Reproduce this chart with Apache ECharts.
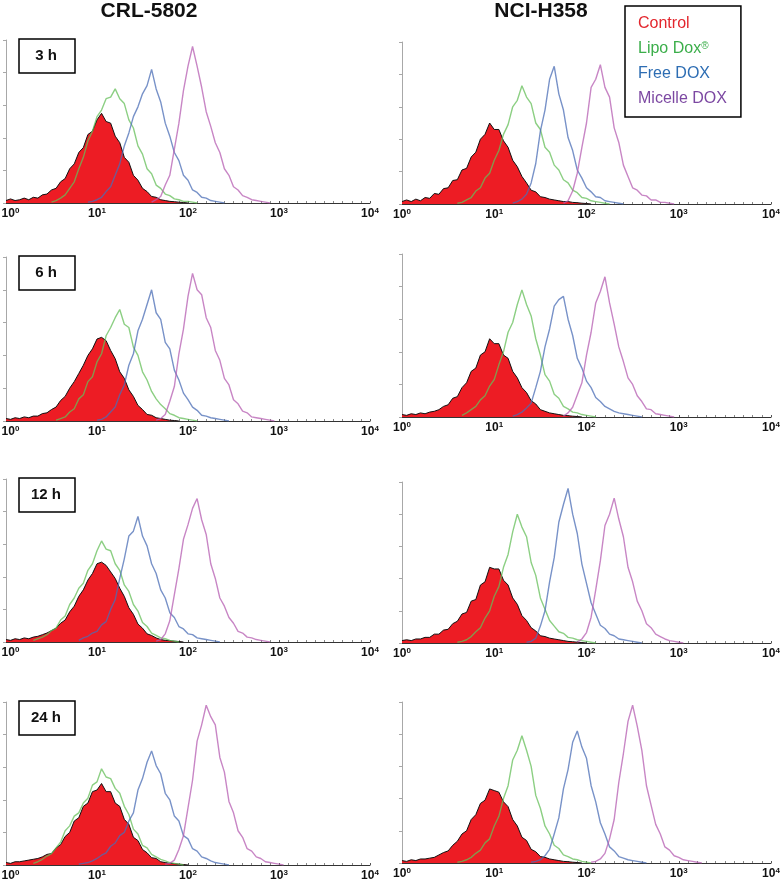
<!DOCTYPE html>
<html><head><meta charset="utf-8">
<script src="https://cdn.jsdelivr.net/npm/echarts@6/dist/echarts.min.js"></script>
<style>html,body{margin:0;padding:0;background:#fff}#c{width:784px;height:881px}</style>
</head><body><div id="c"></div>
<script>
// ---------- categories ----------
const cellLines = ['CRL-5802', 'NCI-H358'];
const timePoints = ['3 h', '6 h', '12 h', '24 h'];
const treatments = ['Control', 'Lipo Dox®', 'Free DOX', 'Micelle DOX'];
const xTickExponents = [0, 1, 2, 3, 4];   // 10^0 ... 10^4
const channelStep = 0.05;                 // histogram channel width (log10 units)

// ---------- histograms (counts in % of panel height), first channel given by *Start ----------
// CRL-5802, 3 h
const crl3hStart = [0, 0.5, 0.9, 1.6];
const crl3hControl = [1.5,2.5,1.5,2,3,2,3.5,3,5,5.5,8,9,13,15,21,24,31,34,42,44,51,55,50,49,41,37,28,25,17,14,9,7,4,3.5,2,1.5,1,0.8,0.5,0.3,0];
const crl3hLipo = [0.5,1.5,3,5,9,13,21,28,38,44,53,57,64,65,70,64,61,51,46,35,30,21,18,11,9,5.5,4.5,2.5,2,1,1,0.5,0];
const crl3hFree = [0.5,1,2,3.5,7,10,17,24,35,43,53,59,67,72,82,70,62,49,41,31,26,17,14,8,6.5,3.5,3,1.5,1,0.5,0];
const crl3hMicelle = [0.5,2,4,11,17,33,49,69,84,96,84,71,56,47,37,31,21,17,10,8,4.5,3.5,2,1.5,1,0.5,0];
// NCI-H358, 3 h
const nci3hStart = [0, 0.6, 1.2, 1.75];
const nci3hControl = [1.5,2.5,1.5,3,2,4,3.5,6.5,6,9.5,10,14.5,15,21,22,29,32,40,43,50,46,46,39,35,27,23,17,13,8.5,7.5,4.5,4,3,2.5,2,1.5,1.5,1,0.8,0.5,0.3,0];
const nci3hLipo = [0.5,1,2.5,4,8,10,16,19,27,33,43,49,60,64,73,66,62,50,46,35,32,24,21,15,13,8.5,7,4,3.5,2,1.5,1,0.5,0];
const nci3hFree = [0.5,1.5,3,6,13,25,45,58,77,85,68,58,41,33,21,16,10,7.5,4.5,4,2,1.5,1,0.5,0];
const nci3hMicelle = [0.5,2,8,19,35,50,72,77,86,72,66,47,38,24,17,10,8.5,5.5,5,2.5,2.5,1,1,0.5,0];
// CRL-5802, 6 h
const crl6hStart = [0, 0.55, 1.0, 1.65];
const crl6hControl = [1.5,1,2,1.5,2.5,2,3,3,4.5,5,7,8.5,12.5,15,20,24,29,34,40,44,50,51,49,43,38,30,26,19,15,9.5,7,4,3.5,2,1.5,1,0.5,0.3,0];
const crl6hLipo = [0.5,1.5,2.5,5.5,7.5,13.5,16,24,27,36,41,52,57,63,68,59,57,45,40,30,25,18,13.5,10,7.5,4.5,3.5,2,1.5,1,0.5,0];
const crl6hFree = [0.5,1,2.5,5.5,8.5,16,22,34,41,55,62,71,80,66,62,48,44,31,25,17,13,8.5,6.5,3.5,3,2,1.5,1,0.5,0];
const crl6hMicelle = [0.5,1.5,4,12,21,41,56,76,90,80,77,63,57,43,37,26,22,13,10.5,6,5,2.5,2,1.5,1,0.5,0];
// NCI-H358, 6 h
const nci6hStart = [0, 0.65, 1.2, 1.75];
const nci6hControl = [1.5,1,2,1.5,2.5,2,3,3.5,4.5,6.5,7.5,11.5,12.5,18,21,28,30,38,40,48,45,45,38,36,28,24,18,15,10,8,4.5,3.5,2.5,2,1.5,1,0.8,0.5,0.3,0];
const nci6hLipo = [1,2.5,4.5,6.5,10.5,13,19,23,32,40,52,58,69,78,69,62,48,38,26,22,14,11.5,6.5,5,3,2.5,1.5,1,0.5,0];
const nci6hFree = [0.5,1.5,3,5.5,8.5,18,28,43,54,68,72,74,60,50,36,30,22,18,12,9.5,6.5,5,3.5,2.5,2,1.5,1,0.5,0];
const nci6hMicelle = [0.5,2.5,6,13.5,21,38,52,70,77,86,70,57,43,34,24,20,13,9.5,5,4.5,2,1.5,1,0.5,0];
// CRL-5802, 12 h
const crl12hStart = [0, 0.3, 0.8, 1.65];
const crl12hControl = [1.5,1,2,1.5,2.5,2,3,3.5,4.5,5.5,7,8.5,11.5,13.5,18.5,22,28,32,38,42,48,49,47,43,39,33,28,21,17,11,8.5,5,4,2.5,1.5,1,0.8,0.5,0.3,0];
const crl12hLipo = [1,2,3,4.5,7,8.5,13.5,16,23,27,33,36,44,48,56,62,57,56,48,44,35,31,23,19,12,9.5,5.5,4,2.5,2,1,0.5,0];
const crl12hFree = [1,2.5,3.5,5.5,6.5,10.5,12.5,20,26,39,51,65,68,77,65,59,48,42,32,27,18,15,9.5,8,5,4.5,2.5,2,1.5,1,0.5,0];
const crl12hMicelle = [0.5,1.5,5,13,29,45,63,72,82,88,75,66,48,39,27,22,15,11.5,6.5,5.5,3,2.5,1.5,1,0.5,0];
// NCI-H358, 12 h
const nci12hStart = [0, 0.6, 1.35, 1.9];
const nci12hControl = [1.5,2,1.5,2.5,2.5,3.5,3.5,5.5,5.5,8,8.5,12,13.5,18,19,26,27,36,38,47,46,46,39,36,28,24,17,14,9.5,7.5,4.5,4,3,2.5,2,1.5,1,0.8,0.5,0.3,0];
const nci12hLipo = [0.5,1,2,4,7,9.5,15.5,20,29,35,47,55,69,80,72,66,50,42,28,21,14,10.5,7,6,3.5,3,2,1.5,1,0.5,0];
const nci12hFree = [0.5,1,3,10.5,20,38,53,75,86,96,80,68,49,37,25,18,11,9,5.5,4.5,2.5,2,1.5,1,0.5,0];
const nci12hMicelle = [0.5,2.5,6.5,16,33,51,73,80,90,77,66,47,38,26,20,12,9.5,5.5,4,2.5,1.5,1,0.5,0];
// CRL-5802, 24 h
const crl24hStart = [0, 0.3, 0.8, 1.75];
const crl24hControl = [1.5,1,2,2,2.5,3,3.5,4,5,6.5,7,10.5,12.5,17.5,20,27,29,36,38,45,46,50,45,45,38,36,28,25,17,15,9.5,7.5,4.5,4,2,1.5,1,0.8,0.5,0.3,0];
const crl24hLipo = [1,2,3.5,5.5,7,10.5,14,21,24,30,32,38,41,49,51,59,54,53,47,44,36,31,22,19,12,10.5,6.5,5,3.5,2.5,1.5,1,0.5,0];
const crl24hFree = [0.5,1,1.5,2.5,4,6,7.5,11.5,13.5,18,20,27,32,46,53,63,70,61,56,44,40,30,27,18,16,10,8.5,5,4,2.5,1.5,1,0.5,0];
const crl24hMicelle = [0.5,1,3,9.5,18,35,52,76,86,98,91,86,66,57,39,32,21,17,10,8.5,5,4,2,1.5,1,0.5,0];
// NCI-H358, 24 h
const nci24hStart = [0, 0.6, 1.4, 2.05];
const nci24hControl = [1.5,1,2,1.5,2.5,2.5,3,3.5,5,6.5,7.5,11,13.5,18,20,27,30,37,39,46,45,44,38,35,27,23,16,14,8.5,7,4,3.5,2.5,2,1.5,1,0.8,0.5,0.3,0];
const nci24hLipo = [0.5,1,2,3.5,6,8,12.5,15,23,29,40,48,64,70,79,70,60,42,34,23,18,11,9,5,4,2.5,2,1,0.5,0];
const nci24hFree = [0.5,1,2,4.5,8.5,18,28,46,58,75,82,72,65,48,38,25,18,10,7.5,4,3,2,1.5,1,0.5,0];
const nci24hMicelle = [0.5,1,2.5,6,15,27,50,68,88,98,85,70,48,36,24,18,10,8,4.5,3.5,2,1.5,1,0.5,0];

// ---------- layout ----------
const FONT = '"Liberation Sans", Arial, Helvetica, sans-serif';
const panels = [
  { row: 0, col: 0, grid: { left: 6,   top: 40,  width: 364, height: 163 }, start: crl3hStart,  curves: [crl3hControl, crl3hLipo, crl3hFree, crl3hMicelle] },
  { row: 0, col: 1, grid: { left: 402, top: 42,  width: 369, height: 162 }, start: nci3hStart,  curves: [nci3hControl, nci3hLipo, nci3hFree, nci3hMicelle] },
  { row: 1, col: 0, grid: { left: 6,   top: 257, width: 364, height: 164 }, start: crl6hStart,  curves: [crl6hControl, crl6hLipo, crl6hFree, crl6hMicelle] },
  { row: 1, col: 1, grid: { left: 402, top: 254, width: 369, height: 163 }, start: nci6hStart,  curves: [nci6hControl, nci6hLipo, nci6hFree, nci6hMicelle] },
  { row: 2, col: 0, grid: { left: 6,   top: 479, width: 364, height: 163 }, start: crl12hStart, curves: [crl12hControl, crl12hLipo, crl12hFree, crl12hMicelle] },
  { row: 2, col: 1, grid: { left: 402, top: 482, width: 369, height: 161 }, start: nci12hStart, curves: [nci12hControl, nci12hLipo, nci12hFree, nci12hMicelle] },
  { row: 3, col: 0, grid: { left: 6,   top: 702, width: 364, height: 163 }, start: crl24hStart, curves: [crl24hControl, crl24hLipo, crl24hFree, crl24hMicelle] },
  { row: 3, col: 1, grid: { left: 402, top: 702, width: 369, height: 161 }, start: nci24hStart, curves: [nci24hControl, nci24hLipo, nci24hFree, nci24hMicelle] }
];
const lineColors = ['#111111', '#66bf5a', '#4b6db5', '#b55db2'];
const legendColors = ['#e3262d', '#3bae4a', '#2d6db3', '#7c48a2'];
const controlFill = '#ed1c24';

const labelRich = {
  b:  { fontSize: 12, fontWeight: 'bold', color: '#111', fontFamily: FONT, lineHeight: 14 },
  b0: { fontSize: 12, fontWeight: 'bold', color: '#111', fontFamily: FONT, lineHeight: 14, padding: [0, 0, 0, 9] },
  s:  { fontSize: 8, fontWeight: 'bold', color: '#111', fontFamily: FONT, verticalAlign: 'top', lineHeight: 14 }
};

const grids = [], xAxes = [], yAxes = [], series = [], graphics = [];
panels.forEach((p, pi) => {
  grids.push(Object.assign({ containLabel: false, outerBoundsMode: 'none' }, p.grid));
  xAxes.push({
    type: 'value', gridIndex: pi, min: xTickExponents[0], max: xTickExponents[xTickExponents.length - 1], interval: 1,
    axisLine: { show: true, lineStyle: { color: '#333', width: 1 } },
    axisTick: { show: true, inside: true, length: 2, lineStyle: { color: '#555' } },
    minorTick: { show: true, splitNumber: 10, length: 2, lineStyle: { color: '#888' } },
    splitLine: { show: false },
    axisLabel: {
      show: true, margin: 4, showMinLabel: true, showMaxLabel: true,
      formatter: v => ((p.col === 0 && v === 0) ? '{b0|10}' : '{b|10}') + '{s|' + v + '}',
      rich: labelRich
    }
  });
  yAxes.push({
    type: 'value', gridIndex: pi, min: 0, max: 100, interval: 20,
    axisLine: { show: true, lineStyle: { color: '#a8a8a8', width: 1 } },
    axisTick: { show: true, length: 3, lineStyle: { color: '#a8a8a8' } },
    axisLabel: { show: false }, splitLine: { show: false }
  });
  p.curves.forEach((vals, ci) => {
    const data = vals.map((v, i) => [Math.round((p.start[ci] + i * channelStep) * 1000) / 1000, v]);
    const s = {
      name: treatments[ci], type: 'line', xAxisIndex: pi, yAxisIndex: pi, data,
      symbol: 'none', smooth: false, animation: false, silent: true,
      itemStyle: { color: ci === 0 ? controlFill : lineColors[ci] },
      lineStyle: { color: lineColors[ci], width: ci === 0 ? 1 : 1.4, opacity: ci === 0 ? 1 : 0.75 },
      z: 2 + ci
    };
    if (ci === 0) s.areaStyle = { color: controlFill, opacity: 1 };
    series.push(s);
  });
  if (p.col === 0) {
    const top = p.grid.top - 1;
    graphics.push({
      type: 'rect', z: 100, shape: { x: 19, y: top, width: 56, height: 34 },
      style: { fill: '#fff', stroke: '#000', lineWidth: 1.5 }
    });
    graphics.push({
      type: 'text', z: 101, x: 46, y: top + 17,
      style: { text: timePoints[p.row], textAlign: 'center', textVerticalAlign: 'middle', font: 'bold 15px ' + FONT, fill: '#111' }
    });
  }
});

const chart = echarts.init(document.getElementById('c'), null, { renderer: 'canvas' });
chart.setOption({
  animation: false,
  backgroundColor: '#fff',
  title: [
    { text: cellLines[0], left: 149, top: 1, textAlign: 'center', padding: 0, textStyle: { fontSize: 21, fontWeight: 'bold', color: '#111', fontFamily: FONT } },
    { text: cellLines[1], left: 541, top: 1, textAlign: 'center', padding: 0, textStyle: { fontSize: 21, fontWeight: 'bold', color: '#111', fontFamily: FONT } }
  ],
  legend: {
    data: treatments.map((n, i) => ({ name: n, icon: 'none', textStyle: { color: legendColors[i] } })),
    orient: 'vertical', left: 625, top: 6, padding: [10, 14, 10, 8], itemGap: 9, itemWidth: 0, itemHeight: 16,
    borderColor: '#000', borderWidth: 1.5, backgroundColor: '#fff', selectedMode: false,
    formatter: n => n === 'Lipo Dox®' ? 'Lipo Dox{s|®}' : n,
    textStyle: { fontSize: 16, fontFamily: FONT, rich: { s: { fontSize: 10, verticalAlign: 'top', color: legendColors[1], fontFamily: FONT } } }
  },
  grid: grids, xAxis: xAxes, yAxis: yAxes, series,
  graphic: graphics
});
</script></body></html>
